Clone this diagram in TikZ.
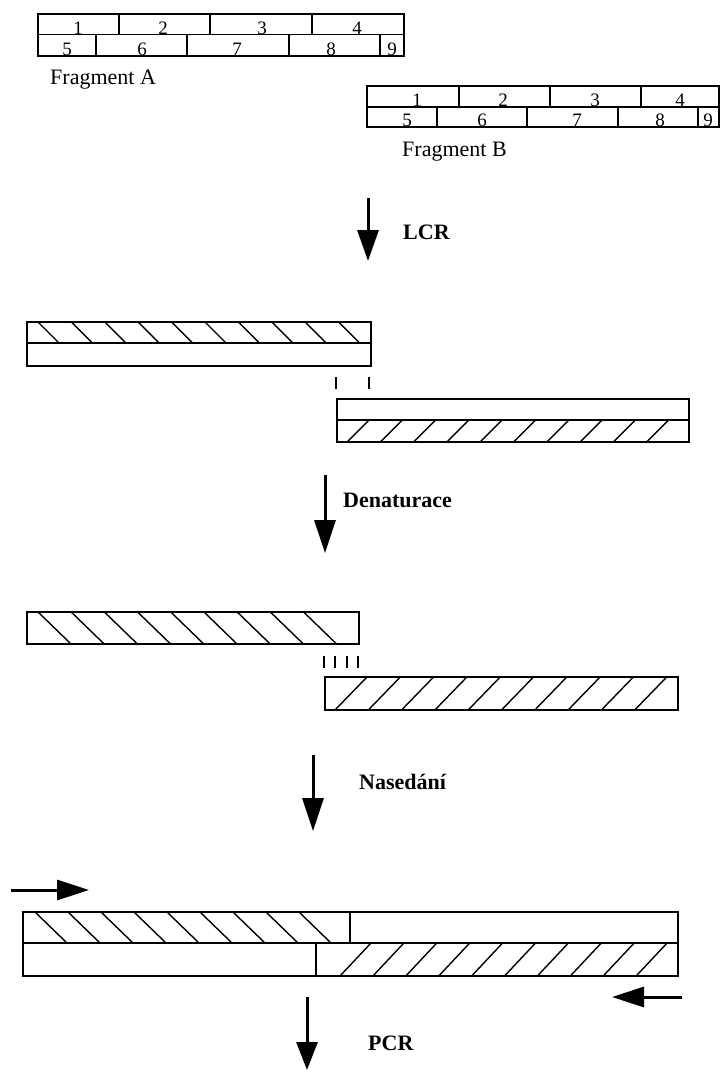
\documentclass[tikz,border=0pt]{standalone}
\usepackage{fontspec}
\setmainfont{Liberation Serif}
\usetikzlibrary{arrows.meta}
\begin{document}
\begin{tikzpicture}[x=1pt,y=-1pt,
  box/.style={draw,line width=1.3pt},
  hl/.style={line width=1.4pt},
  num/.style={anchor=base,font=\fontsize{19}{19}\selectfont,inner sep=0pt},
  fraglbl/.style={anchor=west,font=\fontsize{22}{22}\selectfont,inner sep=0pt},
  proclbl/.style={anchor=west,font=\bfseries\fontsize{22}{22}\selectfont,inner sep=0pt},
  bigarrow/.style={line width=3pt,-{Triangle[length=31pt,width=21pt]}},
  primer/.style={line width=3pt,-{Triangle[length=32pt,width=20pt]}}]
\useasboundingbox (0,0) rectangle (720,1072);

% ---------- Fragment A ----------
\draw[box] (38,14) rectangle (404,56);
\draw[box] (38,34.5) -- (404,34.5);
\foreach \x in {119,210,312} \draw[box] (\x,14) -- (\x,34.5);
\foreach \x in {96,187,289,380} \draw[box] (\x,34.5) -- (\x,56);
\node[num] (a1) at (78,34) {1};
\node[num] (a2) at (163,34) {2};
\node[num] (a3) at (262,34) {3};
\node[num] (a4) at (357,34) {4};
\node[num] (a5) at (67,55.5) {5};
\node[num] (a6) at (142,55.5) {6};
\node[num] (a7) at (237,55.5) {7};
\node[num] (a8) at (331,55.5) {8};
\node[num] (a9) at (392,55.5) {9};
\node[fraglbl] (fa) at (50,80) {Fragment A};

% ---------- Fragment B ----------
\draw[box] (367,86) rectangle (719,127);
\draw[box] (367,107) -- (719,107);
\foreach \x in {459,550,641} \draw[box] (\x,86) -- (\x,107);
\foreach \x in {437,527,618,698} \draw[box] (\x,107) -- (\x,127);
\node[num] (b1) at (417,106.5) {1};
\node[num] (b2) at (503,106.5) {2};
\node[num] (b3) at (595,106.5) {3};
\node[num] (b4) at (680,106.5) {4};
\node[num] (b5) at (407,126.5) {5};
\node[num] (b6) at (482,126.5) {6};
\node[num] (b7) at (577,126.5) {7};
\node[num] (b8) at (660,126.5) {8};
\node[num] (b9) at (708,126.5) {9};
\node[fraglbl] (fb) at (402,152) {Fragment B};

% ---------- LCR ----------
\coordinate (lcrs) at (368,198);
\coordinate (lcre) at (368,261);
\draw[bigarrow] (lcrs) -- (lcre);
\node[proclbl] (lcr) at (403,232) {LCR};

% ---------- ligated duplex ----------
\draw[box] (27,322) rectangle (371,366);
\draw[box] (27,343) -- (371,343);
\foreach \i in {0,...,9} \draw[hl] ({38+33.4*\i},322) -- ({59+33.4*\i},343);
\draw[hl] (336,377) -- (336,389);
\draw[hl] (369,377) -- (369,389);
\draw[box] (337,399) rectangle (689,442);
\draw[box] (337,420) -- (689,420);
\foreach \i in {0,...,9} \draw[hl] ({347+33.3*\i},442) -- ({369+33.3*\i},420);

% ---------- Denaturace ----------
\coordinate (dens) at (325,475);
\coordinate (dene) at (325,553);
\draw[bigarrow,-{Triangle[length=33pt,width=21pt]}] (dens) -- (dene);
\node[proclbl] (den) at (343,500) {Denaturace};

% ---------- single strands ----------
\draw[box] (27,612) rectangle (359,644);
\foreach \i in {0,...,8} \draw[hl] ({38+33.2*\i},612) -- ({71+33.2*\i},644);
\foreach \x in {324,335,347,358} \draw[hl] (\x,656) -- (\x,668);
\draw[box] (325,677) rectangle (678,710);
\foreach \i in {0,...,9} \draw[hl] ({335+33.3*\i},710) -- ({367+33.3*\i},677);

% ---------- Nasedani ----------
\coordinate (nass) at (313,755);
\coordinate (nase) at (313,831);
\draw[bigarrow,-{Triangle[length=33pt,width=21pt]}] (nass) -- (nase);
\node[proclbl] (nas) at (359,782) {Nasedání};

% ---------- final duplex ----------
\coordinate (pr1s) at (11,890);
\coordinate (pr1e) at (89,890);
\draw[primer] (pr1s) -- (pr1e);
\draw[box] (23,912) rectangle (678,976);
\draw[box] (23,943) -- (678,943);
\draw[box] (350,912) -- (350,943);
\draw[box] (316,943) -- (316,976);
\foreach \i in {0,...,8} \draw[hl] ({35+33*\i},912) -- ({67+33*\i},943);
\foreach \i in {0,...,9} \draw[hl] ({340+32.9*\i},976) -- ({371+32.9*\i},943);
\coordinate (pr2s) at (682,997);
\coordinate (pr2e) at (612,997);
\draw[primer] (pr2s) -- (pr2e);

% ---------- PCR ----------
\coordinate (pcrs) at (307,997);
\coordinate (pcre) at (307,1070);
\draw[bigarrow,-{Triangle[length=28pt,width=21pt]}] (pcrs) -- (pcre);
\node[proclbl] (pcr) at (368,1043) {PCR};
\end{tikzpicture}
\end{document}
